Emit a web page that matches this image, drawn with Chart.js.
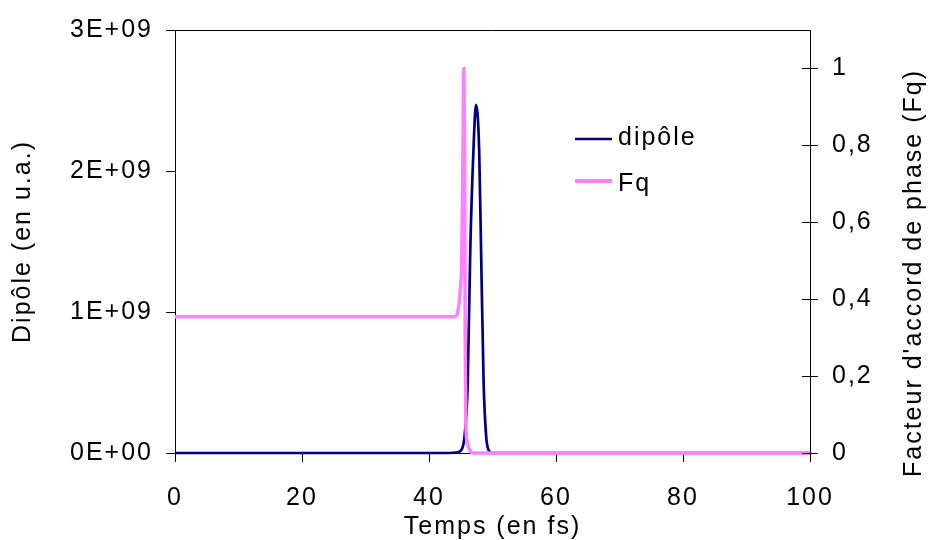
<!DOCTYPE html>
<html>
<head>
<meta charset="utf-8">
<title>Dipôle et Fq</title>
<script src="https://cdn.jsdelivr.net/npm/chart.js@4"></script>
<style>
  html, body { margin: 0; padding: 0; background: #fff; }
  #wrap { width: 929px; height: 540px; }
</style>
</head>
<body>
<div id="wrap"><canvas id="chart" width="929" height="540"></canvas></div>
<script>
// Values
const dipoleTimes = [0, 43, 44.5, 45.2, 45.6, 46.1, 46.5, 47.0, 47.4, 47.9, 48.2, 48.6, 49.0, 49.4, 50, 100];
const dipoleValues = [0, 0, 0.005e9, 0.03e9, 0.12e9, 0.5e9, 1.44e9, 2.15e9, 2.47e9, 2.15e9, 1.44e9, 0.5e9, 0.12e9, 0.02e9, 0, 0];

const fqTimes = [0, 44.0, 44.5, 44.9, 45.15, 45.3, 45.5, 45.6, 45.7, 45.8, 46.0, 46.5, 47, 100];
const fqValues = [0.354, 0.354, 0.365, 0.42, 0.5, 0.7, 1.0, 0.8, 0.3, 0.08, 0.03, 0.005, 0, 0];

const xTicks = [0, 20, 40, 60, 80, 100];
const leftTicks = [0, 1e9, 2e9, 3e9];
const rightTicks = [0, 0.2, 0.4, 0.6, 0.8, 1];

const FONT = '"Liberation Sans", Arial, sans-serif';
const NAVY = '#000080';
const PINK = '#ff80ff';

function toPoints(xs, ys) {
  return xs.map((x, i) => ({ x: x, y: ys[i] }));
}

// 3E+09 style labels
function sciLabel(v) {
  if (v === 0) return '0E+00';
  const exp = Math.floor(Math.log10(Math.abs(v)));
  const mant = Math.round(v / Math.pow(10, exp));
  return mant + 'E+' + String(exp).padStart(2, '0');
}

function frLabel(v) {
  const r = Math.round(v * 10) / 10;
  return Number.isInteger(r) ? String(r) : r.toFixed(1).replace('.', ',');
}

// letter spacing, box top line, inner right ticks, legend, right title
const decorPlugin = {
  id: 'decor',
  beforeDraw(chart) {
    chart.ctx.letterSpacing = '2px';
  },
  afterDraw(chart) {
    const ctx = chart.ctx;
    const area = chart.chartArea;
    const y1 = chart.scales.y1;
    ctx.save();
    ctx.strokeStyle = '#000';
    ctx.lineWidth = 1;

    ctx.beginPath();
    ctx.moveTo(area.left, area.top + 0.5);
    ctx.lineTo(area.right + 0.5, area.top + 0.5);
    ctx.stroke();

    rightTicks.forEach(v => {
      const py = Math.round(y1.getPixelForValue(v)) + 0.5;
      ctx.beginPath();
      ctx.moveTo(area.right - 8, py);
      ctx.lineTo(area.right, py);
      ctx.stroke();
    });

    // legend
    const legend = [
      { label: chart.data.datasets[0].label, color: NAVY, width: 2.5, y: 139, ty: 138 },
      { label: chart.data.datasets[1].label, color: PINK, width: 4, y: 181, ty: 184 }
    ];
    ctx.font = '25px ' + FONT;
    ctx.textAlign = 'left';
    ctx.textBaseline = 'middle';
    legend.forEach(item => {
      ctx.strokeStyle = item.color;
      ctx.lineWidth = item.width;
      ctx.beginPath();
      ctx.moveTo(575, item.y);
      ctx.lineTo(612, item.y);
      ctx.stroke();
      ctx.fillStyle = '#000';
      ctx.fillText(item.label, 618, item.ty);
    });

    // right axis title
    ctx.translate(914, 273);
    ctx.rotate(-Math.PI / 2);
    ctx.textAlign = 'center';
    ctx.fillText("Facteur d'accord de phase (Fq)", 0, 0);
    ctx.restore();
  }
};

const tickFont = { family: FONT, size: 25 };

new Chart(document.getElementById('chart'), {
  type: 'scatter',
  data: {
    datasets: [
      {
        label: 'dipôle',
        data: toPoints(dipoleTimes, dipoleValues),
        yAxisID: 'y',
        showLine: true,
        borderColor: NAVY,
        borderWidth: 2.7,
        pointRadius: 0,
        cubicInterpolationMode: 'monotone',
        clip: 6,
        order: 2
      },
      {
        label: 'Fq',
        data: toPoints(fqTimes, fqValues),
        yAxisID: 'y1',
        showLine: true,
        borderColor: PINK,
        borderWidth: 3.5,
        pointRadius: 0,
        cubicInterpolationMode: 'monotone',
        clip: 6,
        order: 1
      }
    ]
  },
  options: {
    responsive: false,
    devicePixelRatio: 1,
    animation: false,
    layout: { padding: { top: 30, left: 0, right: 0, bottom: 0 } },
    plugins: {
      legend: { display: false },
      tooltip: { enabled: false }
    },
    scales: {
      x: {
        type: 'linear',
        min: 0,
        max: 100,
        afterBuildTicks: s => { s.ticks = xTicks.map(v => ({ value: v })); },
        afterFit: s => { s.height = 87; },
        ticks: { font: tickFont, color: '#000', padding: 21, maxRotation: 0 },
        grid: { drawOnChartArea: false, tickLength: 9, color: '#000', tickColor: '#000' },
        border: { color: '#000', width: 1 },
        title: { display: true, text: 'Temps (en fs)', font: { family: FONT, size: 25, lineHeight: 1 }, color: '#000', padding: { top: 0, bottom: 0 } }
      },
      y: {
        position: 'left',
        min: 0,
        max: 3e9,
        afterBuildTicks: s => { s.ticks = leftTicks.map(v => ({ value: v })); },
        afterFit: s => { s.width = 175; },
        ticks: { font: tickFont, color: '#000', padding: 13, callback: v => sciLabel(v) },
        grid: { drawOnChartArea: false, tickLength: 9, color: '#000', tickColor: '#000' },
        border: { color: '#000', width: 1 },
        title: { display: true, text: 'Dipôle (en u.a.)', font: tickFont, color: '#000', padding: { top: 8, bottom: 0 } }
      },
      y1: {
        position: 'right',
        min: 0,
        max: 1.1,
        afterBuildTicks: s => { s.ticks = rightTicks.map(v => ({ value: v })); },
        afterFit: s => { s.width = 119; },
        ticks: { font: tickFont, color: '#000', padding: 14, callback: v => frLabel(v) },
        grid: { drawOnChartArea: false, tickLength: 8, color: '#000', tickColor: '#000' },
        border: { color: '#000', width: 1 }
      }
    }
  },
  plugins: [decorPlugin]
});
</script>
</body>
</html>
